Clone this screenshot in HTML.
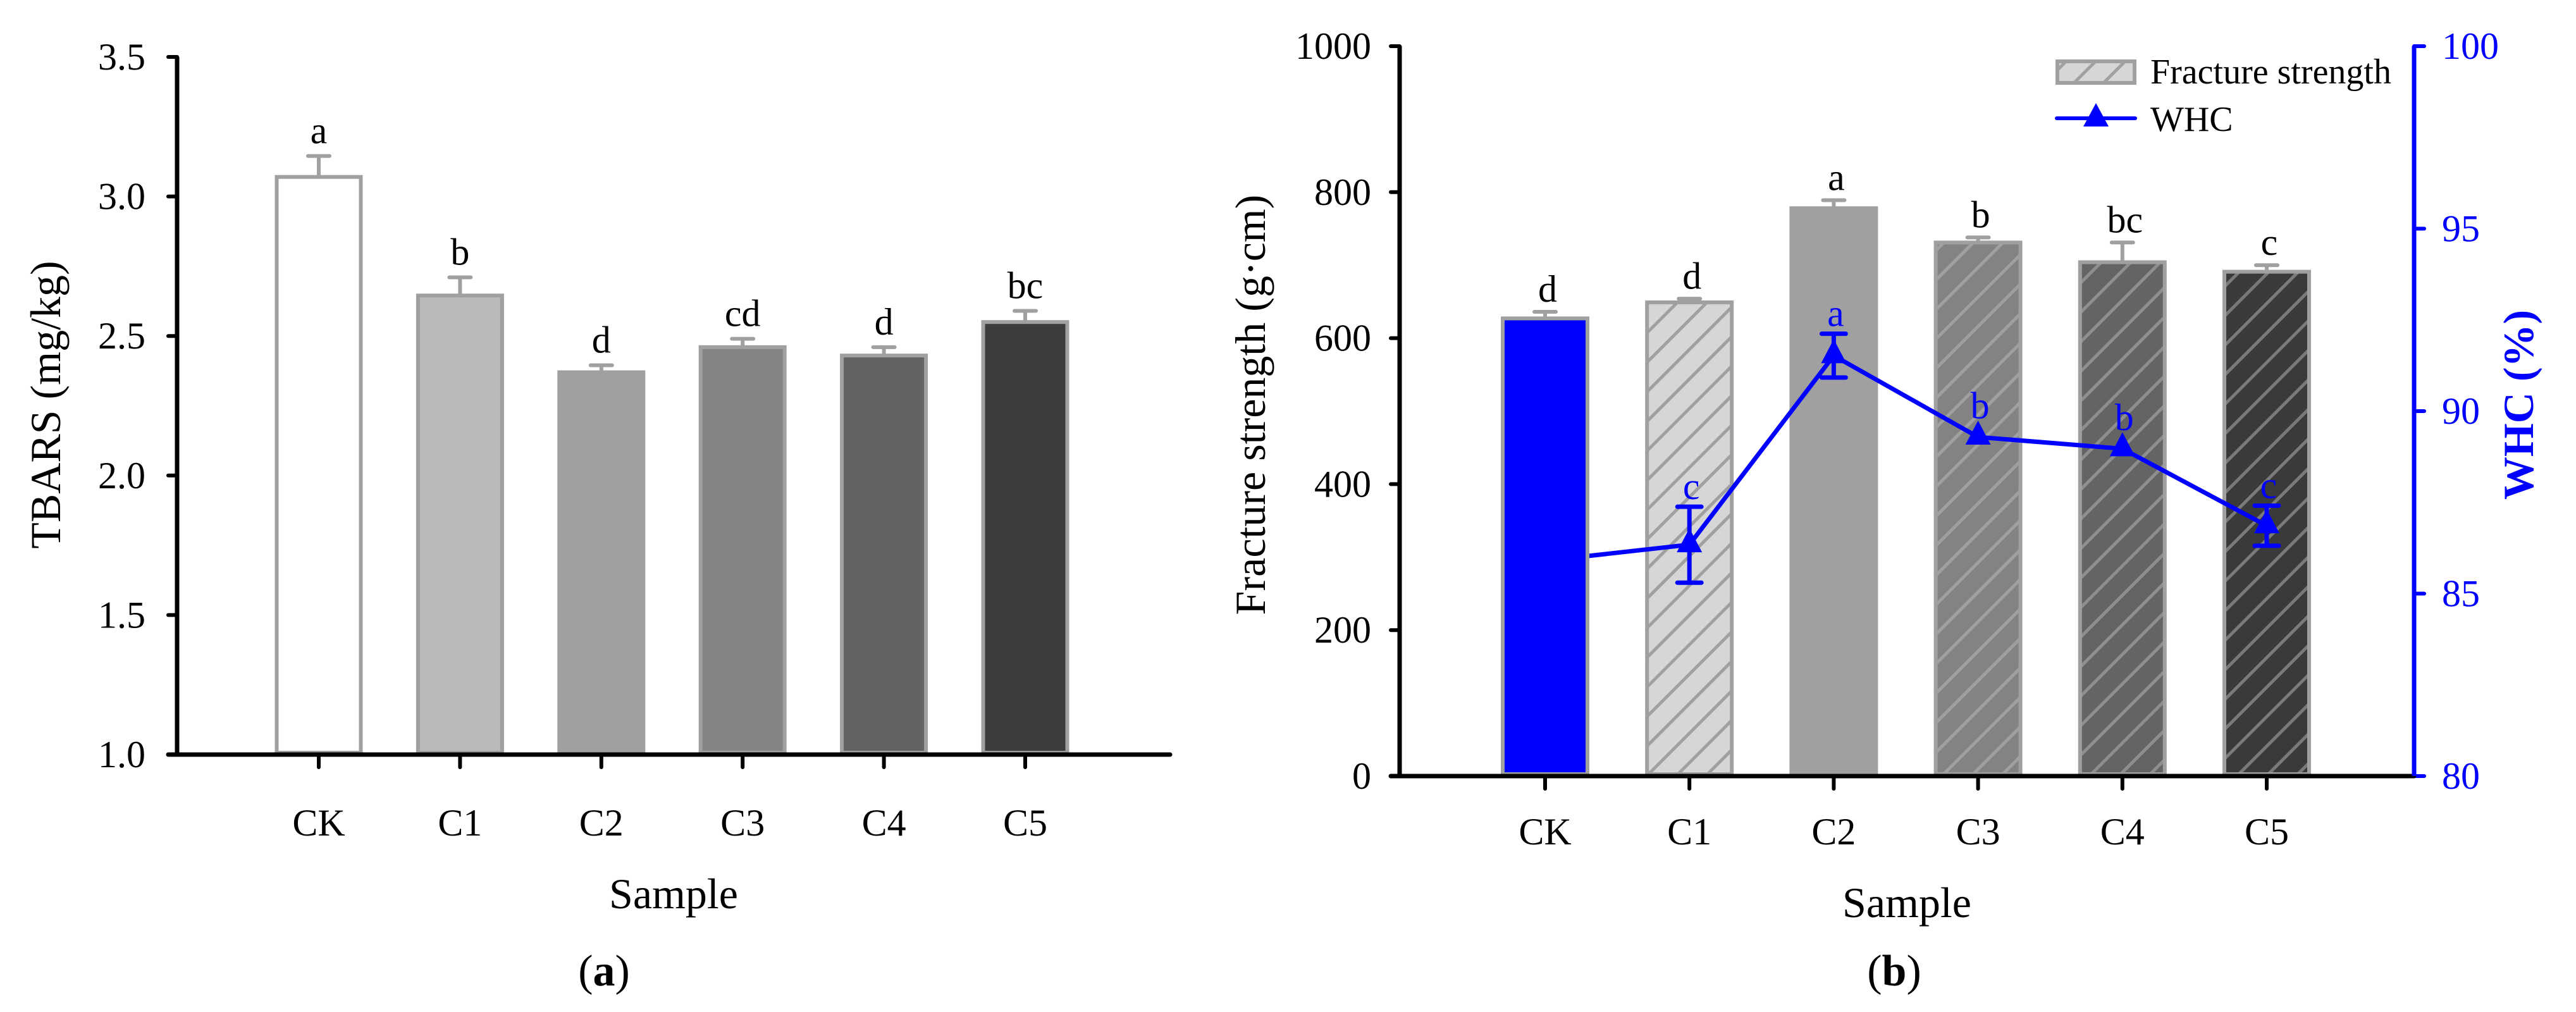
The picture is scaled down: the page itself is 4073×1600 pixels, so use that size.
<!DOCTYPE html>
<html><head><meta charset="utf-8"><style>
html,body{margin:0;padding:0;background:#fff;}
svg{display:block;}
svg text{font-family:"Liberation Serif","DejaVu Serif",serif;}
</style></head><body>
<svg id="chart" width="4073" height="1600" viewBox="0 0 4073 1600" xmlns="http://www.w3.org/2000/svg" font-family="Liberation Serif, serif">
<defs>
<pattern id="h1" patternUnits="userSpaceOnUse" width="33" height="33" patternTransform="rotate(45)"><rect width="33" height="33" fill="#d6d6d6"/><rect x="0" width="5" height="33" fill="#a0a0a0"/></pattern>
<pattern id="h3" patternUnits="userSpaceOnUse" width="33" height="33" patternTransform="rotate(45)"><rect width="33" height="33" fill="#838383"/><rect x="0" width="5" height="33" fill="#a0a0a0"/></pattern>
<pattern id="h4" patternUnits="userSpaceOnUse" width="33" height="33" patternTransform="rotate(45)"><rect width="33" height="33" fill="#646464"/><rect x="0" width="5" height="33" fill="#8e8e8e"/></pattern>
<pattern id="h5" patternUnits="userSpaceOnUse" width="33" height="33" patternTransform="rotate(45)"><rect width="33" height="33" fill="#3a3a3a"/><rect x="0" width="5" height="33" fill="#7a7a7a"/></pattern>
</defs>
<g id="left"></g>
<g id="right"></g>
</svg>
<script>
const categories = ["CK","C1","C2","C3","C4","C5"];
const tbarsValues = [3.07,2.645,2.37,2.46,2.43,2.55];
const tbarsErrors = [0.075,0.065,0.025,0.03,0.03,0.04];
const tbarsLetters = ["a","b","d","cd","d","bc"];
const tbarsTicks = [1.0,1.5,2.0,2.5,3.0,3.5];
const fracValues = [627,649,778,731,704,691];
const fracErrors = [9,5,11,7,27,9];
const fracLetters = ["d","d","a","b","bc","c"];
const fracTicks = [0,200,400,600,800,1000];
const whcValues = [85.9,86.34,91.52,89.29,88.97,86.86];
const whcErrors = [0,1.04,0.6,0.12,0.12,0.55];
const whcLetters = ["","c","a","b","b","c"];
const whcTicks = [80,85,90,95,100];

const NS="http://www.w3.org/2000/svg";
function mk(parent,tag,attrs,text){const e=document.createElementNS(NS,tag);for(const k in attrs)e.setAttribute(k,attrs[k]);if(text!==undefined)e.textContent=text;parent.appendChild(e);return e;}

// LEFT CHART
const L=document.getElementById('left');
const lx0=280,lx1=1850,ly0=1193,ly1=90;
const lY=v=>ly0-(v-1.0)/(3.5-1.0)*(ly0-ly1);
const lX=i=>504+i*223.4;
const lFills=["#ffffff","#bababa","#a0a0a0","#848484","#636363","#3c3c3c"];
categories.forEach((c,i)=>{
  const x=lX(i),w=133,top=lY(tbarsValues[i]);
  const et=lY(tbarsValues[i]+tbarsErrors[i]);
  let e=mk(L,'line',{x1:x,y1:top,x2:x,y2:et,stroke:'#a0a0a0','stroke-width':6});
  
  e=mk(L,'line',{x1:x-17,y1:et,x2:x+17,y2:et,stroke:'#a0a0a0','stroke-width':6,'stroke-linecap':'round'});
  
  e=mk(L,'rect',{x:x-w/2,y:top,width:w,height:ly0-3-top,fill:lFills[i],stroke:'#a0a0a0','stroke-width':6});
  
  e=mk(L,'text',{x:x,y:et-20,'font-size':60,'text-anchor':'middle'},tbarsLetters[i]);
  
  e=mk(L,'line',{x1:x,y1:ly0,x2:x,y2:ly0+20,stroke:'#000','stroke-width':6,'stroke-linecap':'round'});
  
  e=mk(L,'text',{x:x,y:ly0+128,'font-size':60,'text-anchor':'middle'},c);
  
});
tbarsTicks.forEach(t=>{
  const y=lY(t);
  let e=mk(L,'line',{x1:lx0-14,y1:y,x2:lx0,y2:y,stroke:'#000','stroke-width':6,'stroke-linecap':'round'});
  
  e=mk(L,'text',{x:lx0-50,y:y+20,'font-size':60,'text-anchor':'end'},t.toFixed(1));
  
});
let a=mk(L,'line',{x1:lx0,y1:ly1,x2:lx0,y2:ly0,stroke:'#000','stroke-width':7});

a=mk(L,'line',{x1:lx0-14,y1:ly0,x2:lx1,y2:ly0,stroke:'#000','stroke-width':7,'stroke-linecap':'round'});

a=mk(L,'text',{x:0,y:0,'font-size':68,'text-anchor':'middle',transform:'translate(95,640) rotate(-90)'},'TBARS (mg/kg)');

a=mk(L,'text',{x:1065,y:1436,'font-size':68,'text-anchor':'middle'},'Sample');

a=mk(L,'text',{x:955,y:1558,'font-size':70,'text-anchor':'middle'});
a.innerHTML='(<tspan font-weight="bold">a</tspan>)';


// RIGHT CHART
const R=document.getElementById('right');
const rx0=2213,rx1=3817,ry0=1227,ry1=73;
const rY=v=>ry0-v/1000*(ry0-ry1);
const wY=v=>ry0-(v-80)/20*(ry0-ry1);
const rX=i=>2443+i*228.2;
const rFills=["#0000ff","url(#h1)","#a0a0a0","url(#h3)","url(#h4)","url(#h5)"];
categories.forEach((c,i)=>{
  const x=rX(i),w=134,top=rY(fracValues[i]);
  const et=rY(fracValues[i]+fracErrors[i]);
  let e=mk(R,'line',{x1:x,y1:top,x2:x,y2:et,stroke:'#a0a0a0','stroke-width':6});
  
  e=mk(R,'line',{x1:x-17,y1:et,x2:x+17,y2:et,stroke:'#a0a0a0','stroke-width':6,'stroke-linecap':'round'});
  
  e=mk(R,'rect',{x:x-w/2,y:top,width:w,height:ry0-3-top,fill:rFills[i],stroke:'#a0a0a0','stroke-width':6});
  
  e=mk(R,'text',{x:x+4,y:et-16,'font-size':60,'text-anchor':'middle'},fracLetters[i]);
  
  e=mk(R,'line',{x1:x,y1:ry0,x2:x,y2:ry0+20,stroke:'#000','stroke-width':6,'stroke-linecap':'round'});
  
  e=mk(R,'text',{x:x,y:ry0+108,'font-size':60,'text-anchor':'middle'},c);
  
});
let pts=whcValues.map((v,i)=>rX(i)+','+wY(v)).join(' ');
let ln=mk(R,'polyline',{points:pts,fill:'none',stroke:'#0000ff','stroke-width':7,'stroke-linejoin':'round'});

let ck=mk(R,'rect',{x:rX(0)-67,y:rY(fracValues[0]),width:134,height:ry0-3-rY(fracValues[0]),fill:'#0000ff',stroke:'#a0a0a0','stroke-width':6});

whcValues.forEach((v,i)=>{
  if(i===0)return;
  const x=rX(i),y=wY(v);
  if(whcErrors[i]>0.2){
    const t=wY(v+whcErrors[i]),b=wY(v-whcErrors[i]);
    let e=mk(R,'path',{d:`M${x},${t}V${b}M${x-19},${t}H${x+19}M${x-19},${b}H${x+19}`,stroke:'#0000ff','stroke-width':7,fill:'none','stroke-linecap':'round'});
    
  }
  let m=mk(R,'path',{d:`M${x},${y-26} L${x+20},${y+12} L${x-20},${y+12} Z`,fill:'#0000ff'});
  
  const ly=wY(v+Math.max(whcErrors[i],0.3))-12;
  let tl=mk(R,'text',{x:x+3,y:ly,'font-size':60,'text-anchor':'middle',fill:'#0000ff'},whcLetters[i]);
  
});
fracTicks.forEach(t=>{
  const y=rY(t);
  let e=mk(R,'line',{x1:rx0-14,y1:y,x2:rx0,y2:y,stroke:'#000','stroke-width':6,'stroke-linecap':'round'});
  
  e=mk(R,'text',{x:rx0-45,y:y+20,'font-size':60,'text-anchor':'end'},String(t));
  
});
whcTicks.forEach(t=>{
  const y=wY(t);
  let e=mk(R,'line',{x1:rx1,y1:y,x2:rx1+16,y2:y,stroke:'#0000ff','stroke-width':6,'stroke-linecap':'round'});
  
  e=mk(R,'text',{x:rx1+44,y:y+20,'font-size':60,'text-anchor':'start',fill:'#0000ff'},String(t));
  
});
a=mk(R,'line',{x1:rx0,y1:ry1,x2:rx0,y2:ry0,stroke:'#000','stroke-width':7});

a=mk(R,'line',{x1:rx0-14,y1:ry0,x2:rx1,y2:ry0,stroke:'#000','stroke-width':7,'stroke-linecap':'round'});

a=mk(R,'line',{x1:rx1,y1:ry1,x2:rx1,y2:ry0,stroke:'#0000ff','stroke-width':7});

a=mk(R,'text',{x:0,y:0,'font-size':68,'text-anchor':'middle',transform:'translate(2000,640) rotate(-90)'},'Fracture strength (g·cm)');

a=mk(R,'text',{x:0,y:0,'font-size':68,'font-weight':'bold','text-anchor':'middle',fill:'#0000ff',transform:'translate(4005,640) rotate(-90)'},'WHC (%)');

a=mk(R,'text',{x:3015,y:1450,'font-size':68,'text-anchor':'middle'},'Sample');

a=mk(R,'text',{x:2995,y:1558,'font-size':70,'text-anchor':'middle'});
a.innerHTML='(<tspan font-weight="bold">b</tspan>)';

// legend
a=mk(R,'rect',{x:3253,y:97,width:122,height:34,fill:'url(#h1)',stroke:'#a0a0a0','stroke-width':6});

a=mk(R,'text',{x:3400,y:132,'font-size':56},'Fracture strength');

a=mk(R,'line',{x1:3252,y1:187,x2:3376,y2:187,stroke:'#0000ff','stroke-width':6,'stroke-linecap':'round'});

a=mk(R,'path',{d:'M3314,163 L3334,200 L3294,200 Z',fill:'#0000ff'});

a=mk(R,'text',{x:3400,y:207,'font-size':56},'WHC');

</script>
</body></html>
